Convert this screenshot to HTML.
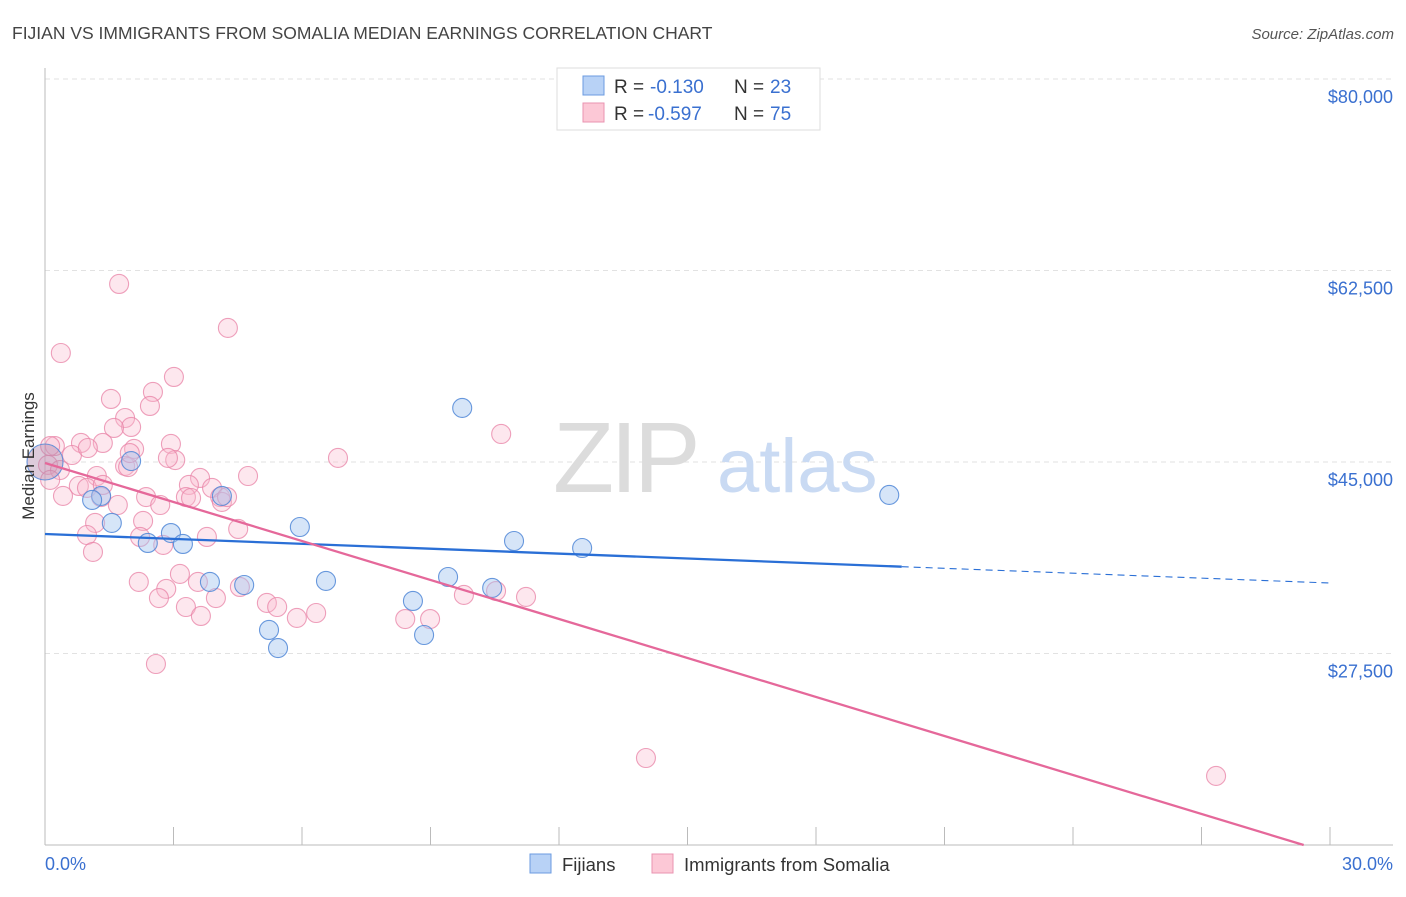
<!DOCTYPE html>
<html><head><meta charset="utf-8"><style>
body{margin:0;background:#fff;font-family:"Liberation Sans",sans-serif;}
svg text{font-family:"Liberation Sans",sans-serif;}
</style></head><body>
<svg id="chart" width="1406" height="892" viewBox="0 0 1406 892" xmlns="http://www.w3.org/2000/svg">
<text x="12" y="39" font-size="17.5" fill="#444">FIJIAN VS IMMIGRANTS FROM SOMALIA MEDIAN EARNINGS CORRELATION CHART</text>
<text x="1394" y="39" font-size="15" fill="#555" font-style="italic" text-anchor="end">Source: ZipAtlas.com</text>
<g id="grid"></g>
<g>
<text x="553" y="492" font-size="100" font-family="Liberation Serif,serif" fill="#dcdcdc" letter-spacing="-4">ZIP</text>
<text x="717" y="492" font-size="76" fill="#c9daf3">atlas</text>
</g>
<line x1="45" y1="68" x2="45" y2="845" stroke="#bbb"/>
<line x1="45" y1="845" x2="1393" y2="845" stroke="#bbb"/>
<g id="ticks"></g>
<g id="points"></g>
<g id="trends"></g>
<text transform="translate(34,456) rotate(-90)" font-size="17" fill="#333" text-anchor="middle">Median Earnings</text>
<text x="45" y="870" font-size="18" fill="#3a70d0">0.0%</text>
<text x="1393" y="870" font-size="18" fill="#3a70d0" text-anchor="end">30.0%</text>
<g>
<rect x="557" y="68" width="263" height="62" fill="#fff" stroke="#ddd"/>
<rect x="583" y="76" width="21" height="19" fill="#b8d2f6" stroke="#6b9be0"/>
<rect x="583" y="103" width="21" height="19" fill="#fcc8d6" stroke="#ea93b0"/>
<text x="614" y="93" font-size="19" fill="#333">R = </text><text x="650" y="93" font-size="19" fill="#3a70d0">-0.130</text>
<text x="734" y="93" font-size="19" fill="#333">N = </text><text x="770" y="93" font-size="19" fill="#3a70d0">23</text>
<text x="614" y="120" font-size="19" fill="#333">R = </text><text x="648" y="120" font-size="19" fill="#3a70d0">-0.597</text>
<text x="734" y="120" font-size="19" fill="#333">N = </text><text x="770" y="120" font-size="19" fill="#3a70d0">75</text>
</g>
<g>
<rect x="530" y="854" width="21" height="19" fill="#b8d2f6" stroke="#6b9be0"/>
<text x="562" y="871" font-size="18.5" fill="#333">Fijians</text>
<rect x="652" y="854" width="21" height="19" fill="#fcc8d6" stroke="#ea93b0"/>
<text x="684" y="871" font-size="18.5" fill="#333">Immigrants from Somalia</text>
</g>
</svg>
<script>
const yTicks=[27500,45000,62500,80000];
const yTickLabels=["$27,500","$45,000","$62,500","$80,000"];
const xTicks=[0,3,6,9,12,15,18,21,24,27,30];
const pinkX=[1.73,4.27,0.37,3.01,2.52,1.54,2.45,1.87,2.01,1.61,0.23,0.84,1.35,2.08,2.94,0.63,3.04,6.84,10.65,1.87,1.94,1.21,4.74,3.62,3.90,3.36,0.79,2.36,3.29,4.09,1.70,2.69,4.13,0.42,0.98,1.17,2.29,4.51,3.78,0.98,2.22,2.76,1.12,2.19,2.83,3.57,3.15,3.99,4.55,5.18,5.42,3.29,3.64,2.66,5.88,6.33,8.41,8.99,9.78,10.53,11.23,2.59,14.03,27.34,0.12,0.07,0.35,1.31,1.35,1.98,3.41,4.25,1.00,2.87,0.12];
const pinkY=[61270,57250,54960,52770,51400,50760,50120,49020,48200,48110,46460,46740,46740,46190,46650,45640,45180,45370,47560,44640,44540,43720,43720,43540,42630,42900,42810,41800,41800,41800,41070,41070,41350,41900,42630,39430,39610,38880,38150,38330,38150,37420,36780,34040,33400,34040,34770,32570,33580,32120,31750,31750,30930,32570,30750,31200,30650,30650,32850,33210,32670,26540,17950,16310,46460,44730,44270,41800,42900,45820,41710,41800,46280,45370,43360];
const blueX=[0,9.74,2.01,1.31,1.10,1.56,2.94,2.40,3.22,5.95,19.71,10.95,12.54,3.85,4.65,6.56,9.41,10.44,8.59,5.23,8.85,5.44,4.13];
const blueY=[45000,49940,45090,41900,41530,39430,38510,37600,37510,39060,41990,37780,37140,34040,33760,34130,34490,33490,32300,29650,29190,28000,41900];
const blueTrend=[38420,33940];
const pinkTrend=[44910,9270];
const NS='http://www.w3.org/2000/svg';
const X=v=>45+v/30*1285;
const Y=v=>79+(80000-v)/17500*191.5;
function mk(tag,attrs,parent){const e=document.createElementNS(NS,tag);for(const k in attrs)e.setAttribute(k,attrs[k]);parent.appendChild(e);return e;}
const grid=document.getElementById('grid');
yTicks.forEach((t,i)=>{
  const l=mk('line',{x1:45,x2:1393,y1:Y(t),y2:Y(t),stroke:'#e2e2e2','stroke-dasharray':'5,4'},grid);
  
  
  const tx=mk('text',{x:1393,y:Y(t)+24,'font-size':18,fill:'#3a70d0','text-anchor':'end'},grid);
  tx.textContent=yTickLabels[i];
  
  
});
const ticks=document.getElementById('ticks');
xTicks.forEach(t=>{
  const l=mk('line',{x1:X(t),x2:X(t),y1:827,y2:845,stroke:'#bbb'},ticks);
  
  
});
const pts=document.getElementById('points');
pinkX.forEach((x,i)=>{
  const c=mk('circle',{cx:X(x),cy:Y(pinkY[i]),r:9.5,fill:'rgba(250,185,205,0.35)',stroke:'rgba(232,130,165,0.75)','stroke-width':1.1},pts);
  
  
});
blueX.forEach((x,i)=>{
  const c=mk('circle',{cx:X(x),cy:Y(blueY[i]),r:i===0?18:9.5,fill:i===0?'rgba(180,140,175,0.45)':'rgba(165,198,240,0.45)',stroke:'rgba(80,135,215,0.85)','stroke-width':1.1},pts);
  
  
});
const tr=document.getElementById('trends');
const bAt=p=>blueTrend[0]+(blueTrend[1]-blueTrend[0])*p/30;
let b1=mk('line',{x1:X(0),y1:Y(bAt(0)),x2:X(20),y2:Y(bAt(20)),stroke:'#2a6fd6','stroke-width':2.3},tr);


let b2=mk('line',{x1:X(20),y1:Y(bAt(20)),x2:X(30),y2:Y(bAt(30)),stroke:'#2a6fd6','stroke-width':1.1,'stroke-dasharray':'7,5'},tr);


const pAt=p=>pinkTrend[0]+(pinkTrend[1]-pinkTrend[0])*p/30;
const pEnd=30*(pinkTrend[0]-10000)/(pinkTrend[0]-pinkTrend[1]);
let p1=mk('line',{x1:X(0),y1:Y(pAt(0)),x2:X(Math.min(30,pEnd)),y2:Y(pAt(Math.min(30,pEnd))),stroke:'#e5689a','stroke-width':2.3},tr);


</script>
</body></html>
